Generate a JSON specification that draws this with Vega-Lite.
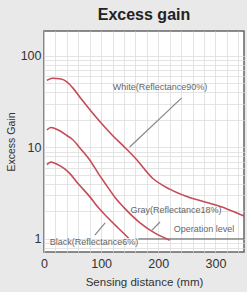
{
  "$schema": "https://vega.github.io/schema/vega-lite/v6.json",
  "width": 200,
  "height": 221,
  "autosize": {"type": "none"},
  "padding": {"left": 44, "top": 31, "right": 3, "bottom": 40},
  "background": "#e9e9e9",
  "title": {"text": "Excess gain", "fontSize": 16, "font": "Liberation Sans", "fontWeight": "bold", "color": "#222222", "anchor": "middle", "offset": 8},
  "config": {
    "view": {"stroke": "#666666", "strokeWidth": 1.5, "fill": "white"},
    "axis": {"domain": false, "ticks": false, "labelFont": "Liberation Sans", "titleFont": "Liberation Sans", "labelColor": "#333333", "titleColor": "#333333", "titleFontWeight": "normal", "gridColor": "#dddddd", "gridWidth": 0.8}
  },
  "resolve": {"axis": {"x": "independent"}},
  "datasets": {
    "curves": [
      {"s": "White", "d": 5, "g": 54}, {"s": "White", "d": 15, "g": 57}, {"s": "White", "d": 30, "g": 56}, {"s": "White", "d": 40, "g": 52},
      {"s": "White", "d": 50, "g": 45}, {"s": "White", "d": 65, "g": 34}, {"s": "White", "d": 80, "g": 26}, {"s": "White", "d": 100, "g": 18.5},
      {"s": "White", "d": 120, "g": 13.5}, {"s": "White", "d": 140, "g": 10.2}, {"s": "White", "d": 160, "g": 7.6}, {"s": "White", "d": 190, "g": 4.6},
      {"s": "White", "d": 220, "g": 3.5}, {"s": "White", "d": 250, "g": 2.9}, {"s": "White", "d": 290, "g": 2.45}, {"s": "White", "d": 320, "g": 2.13},
      {"s": "White", "d": 350, "g": 1.78},
      {"s": "Gray", "d": 5, "g": 15.5}, {"s": "Gray", "d": 12, "g": 16.5}, {"s": "Gray", "d": 25, "g": 15.5}, {"s": "Gray", "d": 40, "g": 13.5},
      {"s": "Gray", "d": 50, "g": 12.2}, {"s": "Gray", "d": 65, "g": 9.5}, {"s": "Gray", "d": 80, "g": 7.3}, {"s": "Gray", "d": 95, "g": 5.2},
      {"s": "Gray", "d": 110, "g": 3.8}, {"s": "Gray", "d": 125, "g": 2.8}, {"s": "Gray", "d": 140, "g": 2.2}, {"s": "Gray", "d": 168, "g": 1.5},
      {"s": "Gray", "d": 195, "g": 1.15}, {"s": "Gray", "d": 220, "g": 0.97},
      {"s": "Black", "d": 5, "g": 6.5}, {"s": "Black", "d": 12, "g": 6.9}, {"s": "Black", "d": 22, "g": 6.6}, {"s": "Black", "d": 35, "g": 5.9},
      {"s": "Black", "d": 45, "g": 5.2}, {"s": "Black", "d": 60, "g": 4.0}, {"s": "Black", "d": 80, "g": 2.9}, {"s": "Black", "d": 95, "g": 2.2},
      {"s": "Black", "d": 110, "g": 1.75}, {"s": "Black", "d": 128, "g": 1.35}, {"s": "Black", "d": 148, "g": 1.02}
    ],
    "labels": [
      {"label": "White(Reflectance90%)", "d": 203, "g": 45.8},
      {"label": "Gray(Reflectance18%)", "d": 231, "g": 2.07},
      {"label": "Operation level", "d": 280, "g": 1.29},
      {"label": "Black(Reflectance6%)", "d": 87.5, "g": 0.93}
    ],
    "leaders": [
      {"d": 241, "g": 34.8, "d2": 150, "g2": 10.1},
      {"d": 189, "g": 1.25, "d2": 203, "g2": 1.53},
      {"d": 89, "g": 1.1, "d2": 107, "g2": 1.5}
    ],
    "oper": [{"d": 165, "d2": 350, "g": 1}]
  },
  "layer": [
    {
      "data": {"name": "oper"},
      "mark": {"type": "rule", "color": "#555555", "strokeWidth": 1},
      "encoding": {
        "x": {"field": "d", "type": "quantitative", "scale": {"domain": [0, 350], "nice": false, "zero": false},
          "axis": {"orient": "bottom", "values": [0, 20, 40, 60, 80, 100, 120, 140, 160, 180, 200, 220, 240, 260, 280, 300, 320, 340], "labels": false, "grid": true, "title": null}},
        "x2": {"field": "d2"},
        "y": {"field": "g", "type": "quantitative", "scale": {"type": "log", "domain": [0.72, 187], "nice": false},
          "axis": {"values": [0.8, 0.9, 1, 2, 3, 4, 5, 6, 7, 8, 9, 10, 20, 30, 40, 50, 60, 70, 80, 90, 100],
            "labelExpr": "datum.value == 1 || datum.value == 10 || datum.value == 100 ? '' + datum.value : ''", "labelOverlap": false, "labelFontSize": 12.5, "labelPadding": 3,
            "title": "Excess Gain", "titleFontSize": 10.5, "titlePadding": 4}}
      }
    },
    {
      "data": {"name": "curves"},
      "mark": {"type": "line", "interpolate": "monotone", "color": "#c54b58", "strokeWidth": 1.6},
      "encoding": {
        "x": {"field": "d", "type": "quantitative", "scale": {"domain": [0, 350], "nice": false, "zero": false},
          "axis": {"orient": "bottom", "values": [0, 100, 200, 300], "grid": false, "labelFlush": false, "labelFontSize": 12.5, "labelPadding": 5,
            "title": "Sensing distance (mm)", "titleFontSize": 11.5, "titlePadding": 7}},
        "y": {"field": "g", "type": "quantitative", "scale": {"type": "log", "domain": [0.72, 187], "nice": false}},
        "detail": {"field": "s"}
      }
    },
    {
      "data": {"name": "leaders"},
      "mark": {"type": "rule", "color": "#888888", "strokeWidth": 1.2},
      "encoding": {
        "x": {"field": "d", "type": "quantitative", "scale": {"domain": [0, 350], "nice": false, "zero": false}, "axis": null},
        "x2": {"field": "d2"},
        "y": {"field": "g", "type": "quantitative", "scale": {"type": "log", "domain": [0.72, 187], "nice": false}},
        "y2": {"field": "g2"}
      }
    },
    {
      "data": {"name": "labels"},
      "mark": {"type": "text", "font": "Liberation Sans", "fontSize": 9, "color": "#666666", "align": "center", "baseline": "middle"},
      "encoding": {
        "x": {"field": "d", "type": "quantitative", "scale": {"domain": [0, 350], "nice": false, "zero": false}, "axis": null},
        "y": {"field": "g", "type": "quantitative", "scale": {"type": "log", "domain": [0.72, 187], "nice": false}},
        "text": {"field": "label"}
      }
    }
  ]
}
